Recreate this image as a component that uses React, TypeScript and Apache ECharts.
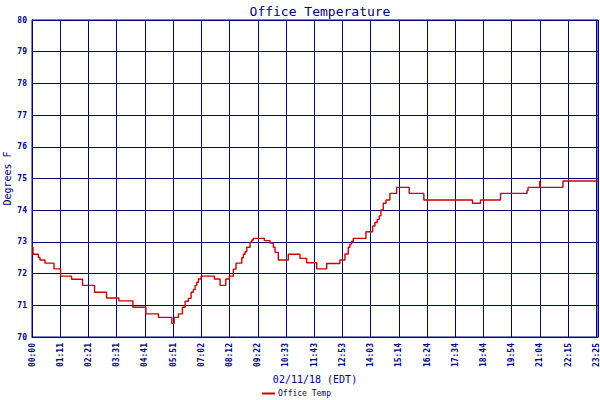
import React, { useEffect, useRef } from "react";
import * as echarts from "echarts";

const tickLabels = ["00:00","01:11","02:21","03:31","04:41","05:51","07:02","08:12","09:22","10:33","11:43","12:53","14:03","15:14","16:24","17:34","18:44","19:54","21:04","22:15","23:25"];
const tickStep = 70.25;
const axisEnd = 1409;

// minutes since midnight
const times = [0, 2.5, 15.7, 19.9, 32.3, 54.7, 71.1, 98.5, 125.8, 155.7, 185.5, 216.3, 251.2, 283.5, 314.8, 348.1, 353.9, 364.5, 374.5, 381.2, 389.4, 396.1, 401.8, 406.1, 410.3, 414.3, 421, 454.1, 468.2, 482.4, 491.4, 501.3, 508, 522.2, 526.2, 530.4, 534.6, 542.8, 547.1, 551, 578.4, 592.6, 600.8, 605, 613.2, 638.1, 667.2, 683.8, 708.7, 733.6, 766.6, 779.1, 787.3, 791.5, 795.7, 799.7, 831.3, 848, 853.7, 859.4, 864.4, 868.6, 874.4, 881.1, 891, 907.7, 939, 975.5, 1096.6, 1116.5, 1166.3, 1232.4, 1234.9, 1264, 1265.3, 1321.8, 1409];
const temps = [72.83, 72.61, 72.51, 72.43, 72.33, 72.15, 71.92, 71.82, 71.63, 71.41, 71.23, 71.14, 70.94, 70.73, 70.62, 70.43, 70.62, 70.73, 70.94, 71.13, 71.22, 71.41, 71.5, 71.63, 71.73, 71.83, 71.92, 71.83, 71.63, 71.83, 71.92, 72.14, 72.33, 72.5, 72.61, 72.69, 72.83, 72.99, 73.06, 73.11, 73.04, 72.96, 72.83, 72.67, 72.43, 72.61, 72.48, 72.34, 72.15, 72.32, 72.43, 72.62, 72.83, 72.93, 73.02, 73.11, 73.32, 73.5, 73.61, 73.71, 73.82, 74.01, 74.22, 74.32, 74.53, 74.72, 74.53, 74.32, 74.22, 74.32, 74.53, 74.62, 74.72, 74.92, 74.72, 74.92, 74.92];

const NAVY = "#000080";
const MONO = "DejaVu Sans Mono, monospace";

export default function App() {
  const ref = useRef<HTMLDivElement>(null);
  useEffect(() => {
    if (!ref.current) return;
    const chart = echarts.init(ref.current, undefined, { renderer: "svg" });
    chart.setOption({
      animation: false,
      backgroundColor: "#ffffff",
      title: {
        text: "Office Temperature",
        left: 315,
        textAlign: "center",
        top: 0,
        textStyle: { color: NAVY, fontFamily: MONO, fontSize: 13, fontWeight: "normal" },
      },
      legend: {
        data: ["Office Temp"],
        left: 262,
        top: 389,
        padding: 0,
        icon: "rect",
        itemWidth: 13,
        itemHeight: 2,
        itemGap: 4,
        textStyle: { color: NAVY, fontFamily: MONO, fontSize: 8, lineHeight: 9, padding: [0, 0, 0, -2] },
      },
      grid: { left: 32, right: 2, top: 20, bottom: 63, show: true, borderColor: NAVY, borderWidth: 1, containLabel: false, outerBoundsMode: "none" },
      xAxis: {
        type: "value",
        min: 0,
        max: axisEnd,
        interval: tickStep,
        name: "02/11/18 (EDT)",
        nameLocation: "middle",
        nameGap: 37,
        nameMoveOverlap: false,
        nameTextStyle: { color: NAVY, fontFamily: MONO, fontSize: 10 },
        axisLine: { lineStyle: { color: NAVY, width: 1 } },
        axisTick: { show: false },
        splitLine: { show: true, lineStyle: { color: NAVY, width: 1 } },
        axisLabel: {
          rotate: 90,
          margin: 6,
          color: NAVY,
          fontFamily: MONO,
          fontSize: 8,
          fontWeight: "bold",
          hideOverlap: false,
          formatter: (v: number) => {
            const i = Math.round(v / tickStep);
            if (Math.abs(v - i * tickStep) < 0.01 && i < tickLabels.length) return tickLabels[i];
            return "";
          },
        },
      },
      yAxis: {
        type: "value",
        min: 70,
        max: 80,
        interval: 1,
        name: "Degrees F",
        nameLocation: "middle",
        nameRotate: 90,
        nameGap: 20,
        nameMoveOverlap: false,
        nameTextStyle: { color: NAVY, fontFamily: MONO, fontSize: 10 },
        axisLine: { show: true, lineStyle: { color: NAVY, width: 1 } },
        axisTick: { show: false },
        splitLine: { show: true, lineStyle: { color: NAVY, width: 1 } },
        axisLabel: { color: NAVY, fontFamily: MONO, fontSize: 8, fontWeight: "bold", margin: 5 },
      },
      series: [
        {
          name: "Office Temp",
          type: "line",
          step: "end",
          showSymbol: false,
          symbol: "none",
          color: "#cc0000",
          lineStyle: { color: "#cc0000", width: 1.4 },
          data: times.map((t, i) => [t, temps[i]]),
        },
      ],
    });
    return () => chart.dispose();
  }, []);
  return <div ref={ref} style={{ width: 600, height: 400, position: "absolute", left: 0, top: 0 }} />;
}
